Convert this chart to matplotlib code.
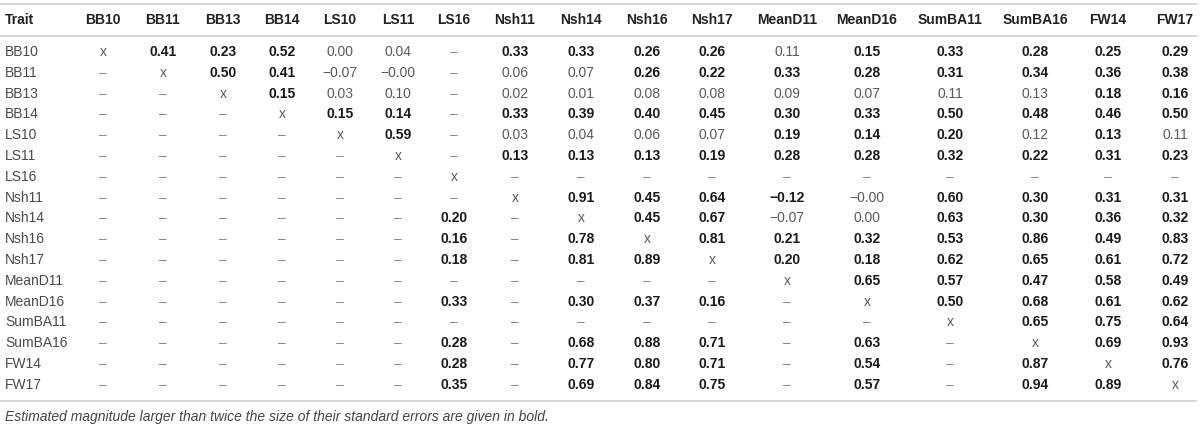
import matplotlib
matplotlib.use("Agg")
import matplotlib.pyplot as plt
from matplotlib.lines import Line2D

plt.rcParams["font.family"] = ["Liberation Sans", "DejaVu Sans"]

# table content, "*" marks values printed in bold
columns = ["BB10", "BB11", "BB13", "BB14", "LS10", "LS11", "LS16", "Nsh11", "Nsh14",
           "Nsh16", "Nsh17", "MeanD11", "MeanD16", "SumBA11", "SumBA16", "FW14", "FW17"]
traits = columns

row_BB10 = ["x", "*0.41", "*0.23", "*0.52", "0.00", "0.04", "–", "*0.33", "*0.33",
            "*0.26", "*0.26", "0.11", "*0.15", "*0.33", "*0.28", "*0.25", "*0.29"]
row_BB11 = ["–", "x", "*0.50", "*0.41", "−0.07", "−0.00", "–", "0.06", "0.07",
            "*0.26", "*0.22", "*0.33", "*0.28", "*0.31", "*0.34", "*0.36", "*0.38"]
row_BB13 = ["–", "–", "x", "*0.15", "0.03", "0.10", "–", "0.02", "0.01",
            "0.08", "0.08", "0.09", "0.07", "0.11", "0.13", "*0.18", "*0.16"]
row_BB14 = ["–", "–", "–", "x", "*0.15", "*0.14", "–", "*0.33", "*0.39",
            "*0.40", "*0.45", "*0.30", "*0.33", "*0.50", "*0.48", "*0.46", "*0.50"]
row_LS10 = ["–", "–", "–", "–", "x", "*0.59", "–", "0.03", "0.04",
            "0.06", "0.07", "*0.19", "*0.14", "*0.20", "0.12", "*0.13", "0.11"]
row_LS11 = ["–", "–", "–", "–", "–", "x", "–", "*0.13", "*0.13",
            "*0.13", "*0.19", "*0.28", "*0.28", "*0.32", "*0.22", "*0.31", "*0.23"]
row_LS16 = ["–", "–", "–", "–", "–", "–", "x", "–", "–",
            "–", "–", "–", "–", "–", "–", "–", "–"]
row_Nsh11 = ["–", "–", "–", "–", "–", "–", "–", "x", "*0.91",
             "*0.45", "*0.64", "*−0.12", "−0.00", "*0.60", "*0.30", "*0.31", "*0.31"]
row_Nsh14 = ["–", "–", "–", "–", "–", "–", "*0.20", "–", "x",
             "*0.45", "*0.67", "−0.07", "0.00", "*0.63", "*0.30", "*0.36", "*0.32"]
row_Nsh16 = ["–", "–", "–", "–", "–", "–", "*0.16", "–", "*0.78",
             "x", "*0.81", "*0.21", "*0.32", "*0.53", "*0.86", "*0.49", "*0.83"]
row_Nsh17 = ["–", "–", "–", "–", "–", "–", "*0.18", "–", "*0.81",
             "*0.89", "x", "*0.20", "*0.18", "*0.62", "*0.65", "*0.61", "*0.72"]
row_MeanD11 = ["–", "–", "–", "–", "–", "–", "–", "–", "–",
               "–", "–", "x", "*0.65", "*0.57", "*0.47", "*0.58", "*0.49"]
row_MeanD16 = ["–", "–", "–", "–", "–", "–", "*0.33", "–", "*0.30",
               "*0.37", "*0.16", "–", "x", "*0.50", "*0.68", "*0.61", "*0.62"]
row_SumBA11 = ["–", "–", "–", "–", "–", "–", "–", "–", "–",
               "–", "–", "–", "–", "x", "*0.65", "*0.75", "*0.64"]
row_SumBA16 = ["–", "–", "–", "–", "–", "–", "*0.28", "–", "*0.68",
               "*0.88", "*0.71", "–", "*0.63", "–", "x", "*0.69", "*0.93"]
row_FW14 = ["–", "–", "–", "–", "–", "–", "*0.28", "–", "*0.77",
            "*0.80", "*0.71", "–", "*0.54", "–", "*0.87", "x", "*0.76"]
row_FW17 = ["–", "–", "–", "–", "–", "–", "*0.35", "–", "*0.69",
            "*0.84", "*0.75", "–", "*0.57", "–", "*0.94", "*0.89", "x"]

rows = [row_BB10, row_BB11, row_BB13, row_BB14, row_LS10, row_LS11, row_LS16,
        row_Nsh11, row_Nsh14, row_Nsh16, row_Nsh17, row_MeanD11, row_MeanD16,
        row_SumBA11, row_SumBA16, row_FW14, row_FW17]

footnote = "Estimated magnitude larger than twice the size of their standard errors are given in bold."

# layout in pixels
W, H = 1200, 425
col_x = [103, 163, 223, 282, 340, 398, 454, 515, 581, 647, 712, 787, 867, 950, 1035, 1108, 1175]
trait_x = 5
header_y = 20
row_y0 = 52
row_dy = 20.8
fs = 10

fig = plt.figure(figsize=(W / 100, H / 100), dpi=100)


def px(x, y):
    return x / W, 1 - y / H


def rule(y):
    x0, yy = px(0, y)
    x1, _ = px(1196, y)
    fig.add_artist(Line2D([x0, x1], [yy, yy], color="#cfcfcf", lw=1.2))


rule(4)
rule(36)
rule(401)

fig.text(*px(trait_x, header_y), "Trait", ha="left", va="center",
         fontsize=fs, fontweight="bold", color="#222222")
for name, x in zip(columns, col_x):
    fig.text(*px(x, header_y), name, ha="center", va="center",
             fontsize=fs, fontweight="bold", color="#222222")

for i, (trait, cells) in enumerate(zip(traits, rows)):
    y = row_y0 + i * row_dy
    fig.text(*px(trait_x, y), trait, ha="left", va="center", fontsize=fs, color="#4a4a4a")
    for cell, x in zip(cells, col_x):
        if cell.startswith("*"):
            fig.text(*px(x, y), cell[1:], ha="center", va="center",
                     fontsize=fs, fontweight="bold", color="#1a1a1a")
        elif cell == "–":
            fig.text(*px(x, y), cell, ha="center", va="center", fontsize=fs, color="#8a8a8a")
        else:
            fig.text(*px(x, y), cell, ha="center", va="center", fontsize=fs, color="#5a5a5a")

fig.text(*px(trait_x, 417), footnote, ha="left", va="center",
         fontsize=fs, style="italic", color="#444444")

fig.savefig("out.png", dpi=100, facecolor="white")
